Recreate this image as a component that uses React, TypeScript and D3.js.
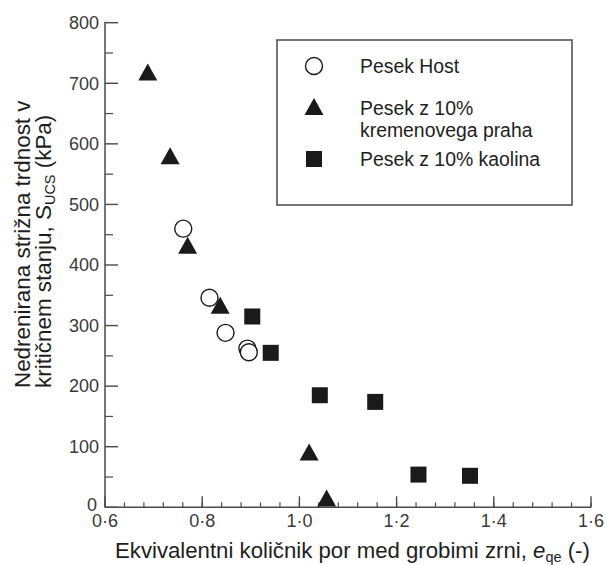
import React from "react";
import * as d3 from "d3";

const hostX = [0.761, 0.815, 0.848, 0.893, 0.896];
const hostY = [460, 346, 288, 262, 256];
const quartzX = [0.688, 0.734, 0.770, 0.837, 1.020, 1.056];
const quartzY = [716, 578, 430, 331, 89, 13];
const kaolinX = [0.903, 0.941, 1.042, 1.156, 1.245, 1.351];
const kaolinY = [315, 255, 185, 174, 54, 52];

const xMajor = [0.6, 0.8, 1.0, 1.2, 1.4, 1.6];
const xMinor = d3.range(0.6, 1.6001, 0.04);
const yMajor = [0, 100, 200, 300, 400, 500, 600, 700, 800];
const yMinor = d3.range(50, 800, 100);

const legendItems = [
  { kind: "circle", lines: ["Pesek Host"] },
  { kind: "triangle", lines: ["Pesek z 10%", "kremenovega praha"] },
  { kind: "square", lines: ["Pesek z 10% kaolina"] },
];

const W = 607;
const H = 565;
const axisColor = "#4a4a4a";
const textColor = "#1e1e1e";
const markColor = "#1a1a1a";
const font = "Liberation Sans, Arial, sans-serif";

const fmt = (v: number) => (v === 0 ? "0" : v.toFixed(1).replace(".", "·"));

function Marker({ kind, cx, cy }: { kind: string; cx: number; cy: number }) {
  if (kind === "circle")
    return <circle cx={cx} cy={cy} r={8.5} fill="#fff" stroke={markColor} strokeWidth={1.4} />;
  if (kind === "triangle") {
    const p = d3.path();
    p.moveTo(cx, cy - 10);
    p.lineTo(cx + 9.5, cy + 7);
    p.lineTo(cx - 9.5, cy + 7);
    p.closePath();
    return <path d={p.toString()} fill={markColor} />;
  }
  return <rect x={cx - 8} y={cy - 8} width={16} height={16} fill={markColor} />;
}

export default function App() {
  const x = d3.scaleLinear().domain([0.6, 1.6]).range([105, 591]);
  const y = d3.scaleLinear().domain([0, 800]).range([507.3, 22.7]);

  return (
    <svg width={W} height={H} style={{ position: "absolute", left: 0, top: 0, background: "#fff" }}>
      <rect width={W} height={H} fill="#fff" />
      {/* axes */}
      <line x1={x(0.6)} y1={y(0)} x2={x(1.6)} y2={y(0)} stroke={axisColor} strokeWidth={1.5} />
      <line x1={x(0.6)} y1={y(0)} x2={x(0.6)} y2={y(800) - 1} stroke={axisColor} strokeWidth={1.5} />
      {xMinor.map((v, i) => (
        <line key={"xm" + i} x1={x(v)} x2={x(v)} y1={y(0)} y2={y(0) - 5} stroke={axisColor} strokeWidth={1.2} />
      ))}
      {xMajor.map((v) => (
        <g key={"xM" + v}>
          <line x1={x(v)} x2={x(v)} y1={y(0)} y2={y(0) - 11} stroke={axisColor} strokeWidth={1.4} />
          <text x={x(v)} y={y(0) + 20} textAnchor="middle" fontFamily={font} fontSize={18} fill="#3a3a3a">
            {fmt(v)}
          </text>
        </g>
      ))}
      {yMinor.map((v) => (
        <line key={"ym" + v} x1={x(0.6)} x2={x(0.6) + 8} y1={y(v)} y2={y(v)} stroke={axisColor} strokeWidth={1.2} />
      ))}
      {yMajor.map((v) => (
        <g key={"yM" + v}>
          <line x1={x(0.6)} x2={x(0.6) + 13} y1={y(v)} y2={y(v)} stroke={axisColor} strokeWidth={1.4} />
          <text
            x={v === 0 ? 97 : 99}
            y={v === 0 ? y(v) - 3 : y(v)}
            dy="0.35em"
            textAnchor="end"
            fontFamily={font}
            fontSize={18}
            fill="#3a3a3a"
          >
            {v}
          </text>
        </g>
      ))}
      {/* axis titles */}
      <text x={115} y={558} fontFamily={font} fontSize={22.2} fill={textColor}>
        Ekvivalentni količnik por med grobimi zrni,{" "}
        <tspan fontStyle="italic">e</tspan>
        <tspan fontSize={14.5} dy={4}>qe</tspan>
        <tspan dy={-4}> (-)</tspan>
      </text>
      <g transform="translate(30,388) rotate(-90)">
        <text x={0} y={0} fontFamily={font} fontSize={22.4} fill={textColor}>
          Nedrenirana strižna trdnost v
        </text>
        <text x={0} y={21} fontFamily={font} fontSize={22.4} fill={textColor}>
          kritičnem stanju, S<tspan fontSize={14.5} dy={4}>UCS</tspan>
          <tspan dy={-4}> (kPa)</tspan>
        </text>
      </g>
      {/* legend */}
      <rect x={277} y={40} width={295} height={165} fill="#fff" stroke={axisColor} strokeWidth={1.5} />
      {(() => {
        const rows = [66, 108, 159];
        return legendItems.map((it, i) => (
          <g key={it.kind}>
            <Marker kind={it.kind} cx={314} cy={rows[i]} />
            {it.lines.map((l, j) => (
              <text key={j} x={360} y={rows[i] + 7 + j * 22} fontFamily={font} fontSize={19.4} fill={textColor}>
                {l}
              </text>
            ))}
          </g>
        ));
      })()}
      {/* data */}
      {quartzX.map((v, i) => (
        <Marker key={"q" + i} kind="triangle" cx={x(v)} cy={y(quartzY[i])} />
      ))}
      {kaolinX.map((v, i) => (
        <Marker key={"k" + i} kind="square" cx={x(v)} cy={y(kaolinY[i])} />
      ))}
      {hostX.map((v, i) => (
        <Marker key={"h" + i} kind="circle" cx={x(v)} cy={y(hostY[i])} />
      ))}
    </svg>
  );
}
